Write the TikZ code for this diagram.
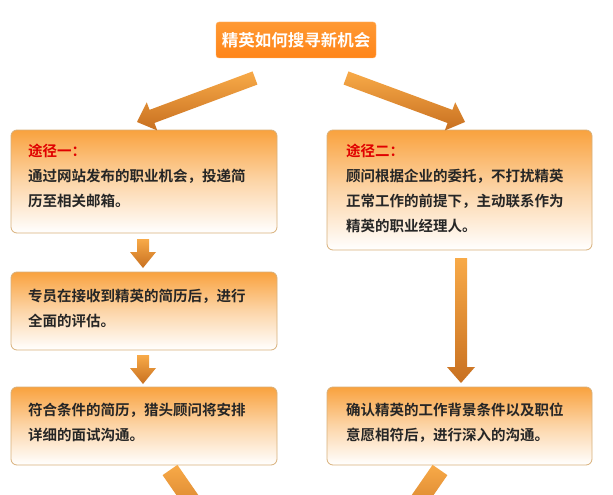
\documentclass[tikz,border=0pt]{standalone}
\usepackage{fontspec}
\newfontfamily\cjk{Noto Sans CJK SC Bold}
\usetikzlibrary{calc}
\definecolor{boxor}{HTML}{F9A23E}
\definecolor{boxdraw}{HTML}{D8B07A}
\definecolor{arlight}{HTML}{F8AA48}
\definecolor{ardark}{HTML}{C87020}
\definecolor{titor}{HTML}{FF8519}
\definecolor{redlab}{HTML}{E00000}
\tikzset{
  box/.style={draw=boxdraw,rounded corners=6pt,top color=boxor,bottom color=white,middle color=boxor!45!white,line width=0.8pt},
  txt/.style={anchor=north west,align=left,inner sep=0pt,font=\cjk\fontsize{14.5}{25}\selectfont,text=black!85},
  arrowshade/.style={top color=arlight,bottom color=ardark,draw=none}
}
\newcommand\farrow[4]{% from, to, half shaft, half head
  \coordinate (hh) at ($(#2)!16pt!(#1)$);
  \shade[arrowshade] ($(#1)!#3!90:(#2)$) -- ($(hh)!#3!-90:(#1)$) -- ($(hh)!#4!-90:(#1)$) -- (#2)
    -- ($(hh)!#4!90:(#1)$) -- ($(hh)!#3!90:(#1)$) -- ($(#1)!#3!-90:(#2)$) -- cycle;}
\begin{document}
\begin{tikzpicture}[x=1pt,y=-1pt]
\useasboundingbox[fill=white] (0,0) rectangle (613,495);
\clip (0,0) rectangle (613,495);
% title
\node[draw=orange!60,rounded corners=3pt,top color=orange!80,bottom color=titor,minimum width=160pt,minimum height=36pt,inner sep=0pt,text=white,font=\cjk\fontsize{16.5}{18}\selectfont] (top) at (296,40) {精英如何搜寻新机会};
% boxes
\path[box] (11,130) rectangle (277,233);
\path[box] (327,130) rectangle (592,250);
\path[box] (11,272) rectangle (277,350);
\path[box] (11,387) rectangle (277,465);
\path[box] (327,387) rectangle (592,465);
\node[txt] (l1) at (28,144) {\textcolor{redlab}{途径一：}\\通过网站发布的职业机会，投递简\\历至相关邮箱。};
\node[txt] (r1) at (346,144) {\textcolor{redlab}{途径二：}\\顾问根据企业的委托，不打扰精英\\正常工作的前提下，主动联系作为\\精英的职业经理人。};
\node[txt] (l2) at (28,289) {专员在接收到精英的简历后，进行\\全面的评估。};
\node[txt] (l3) at (28,403) {符合条件的简历，猎头顾问将安排\\详细的面试沟通。};
\node[txt] (r3) at (346,403) {确认精英的工作背景条件以及职位\\意愿相符后，进行深入的沟通。};
% arrow coordinates
\coordinate (a1s) at (255,78); \coordinate (a1e) at (137,122);
\coordinate (a2s) at (346,78); \coordinate (a2e) at (465,122);
\coordinate (a3s) at (143,239); \coordinate (a3e) at (143,268);
\coordinate (a4s) at (143,355); \coordinate (a4e) at (143,384);
\coordinate (a5s) at (461,258); \coordinate (a5e) at (461,383);
\coordinate (a6s) at (170,470); \coordinate (a6e) at (215,535);
\coordinate (a7s) at (440,470); \coordinate (a7e) at (395,535);
\farrow{a1s}{a1e}{7pt}{15pt}
\farrow{a2s}{a2e}{7pt}{15pt}
\farrow{a3s}{a3e}{6pt}{13pt}
\farrow{a4s}{a4e}{6pt}{13pt}
\farrow{a5s}{a5e}{6pt}{14pt}
\farrow{a6s}{a6e}{9pt}{18pt}
\farrow{a7s}{a7e}{9pt}{18pt}
\end{tikzpicture}
\end{document}
